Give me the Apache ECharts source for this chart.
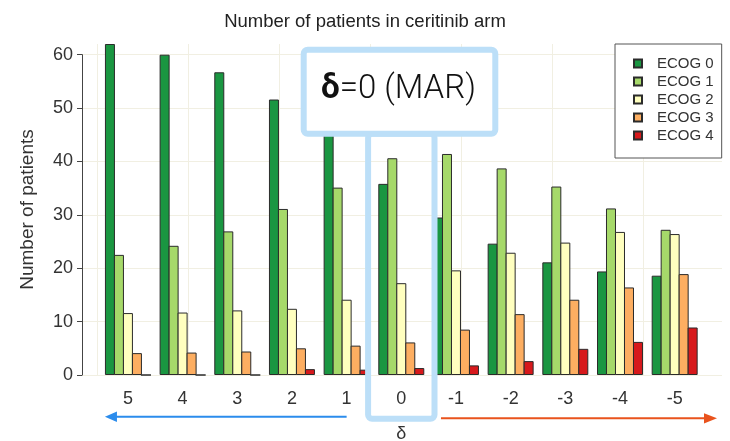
<!DOCTYPE html>
<html>
<head>
<meta charset="utf-8">
<script src="https://cdn.jsdelivr.net/npm/echarts/dist/echarts.min.js"></script>
<style>
  html, body { margin: 0; padding: 0; background: #ffffff; }
  #chart { width: 730px; height: 441px; }
</style>
</head>
<body>
<div id="chart"></div>
<script>
// ---- data ----
const categories = ['5', '4', '3', '2', '1', '0', '-1', '-2', '-3', '-4', '-5'];
const seriesNames = ['ECOG 0', 'ECOG 1', 'ECOG 2', 'ECOG 3', 'ECOG 4'];
const ecog0 = [62, 60, 56.7, 51.6, 45.5, 35.8, 29.5, 24.6, 21.1, 19.4, 18.6];
const ecog1 = [22.5, 24.2, 26.9, 31.1, 35.1, 40.6, 41.4, 38.7, 35.3, 31.2, 27.2];
const ecog2 = [11.6, 11.7, 12.1, 12.4, 14.1, 17.2, 19.6, 22.9, 24.8, 26.8, 26.4];
const ecog3 = [4.1, 4.2, 4.4, 5.0, 5.5, 6.1, 8.5, 11.4, 14.1, 16.4, 18.9];
const ecog4 = [0, 0, 0, 1.1, 1.0, 1.3, 1.8, 2.6, 4.9, 6.2, 8.9];
const yTickMin = 0, yTickMax = 60, yTickStep = 10;
const yRangeMax = 62;
const titleText = 'Number of patients in ceritinib arm';
const yName = 'Number of patients';
const xName = 'δ';

const colors = ['#1a9641', '#a6d96a', '#ffffbf', '#fdae61', '#d7191c'];
const allValues = [ecog0, ecog1, ecog2, ecog3, ecog4];

const chart = echarts.init(document.getElementById('chart'), null, { renderer: 'canvas' });

const FONT = '"Liberation Sans", Arial, sans-serif';
const plotTop = 44, plotBottom = 66; // y=0 at 375, y=62 at 44
const pxPerUnit = (441 - plotBottom - plotTop) / yRangeMax;
const axisTop = 441 - plotBottom - yTickMax * pxPerUnit;

const option = {
  animation: false,
  backgroundColor: '#ffffff',
  title: {
    text: titleText,
    left: 'center',
    top: 7,
    textStyle: { fontFamily: FONT, fontSize: 18.5, fontWeight: 'normal', color: '#222' }
  },
  legend: {
    data: seriesNames,
    orient: 'vertical',
    left: 615,
    top: 44,
    padding: [12, 8, 15, 18],
    itemWidth: 8,
    itemHeight: 8,
    itemGap: 3,
    icon: 'rect',
    borderColor: '#555',
    borderWidth: 1,
    backgroundColor: '#ffffff',
    textStyle: { fontFamily: FONT, fontSize: 15, color: '#333', padding: [0, 0, 0, 10], lineHeight: 15 },
    z: 20
  },
  grid: [
    { left: 100.6, right: 28, top: plotTop, bottom: plotBottom, outerBoundsMode: 'none', containLabel: false },
    { left: 82, right: 8, top: axisTop, bottom: plotBottom, outerBoundsMode: 'none', containLabel: false },
    { left: 97, width: 637, top: plotTop, bottom: plotBottom, outerBoundsMode: 'none', containLabel: false }
  ],
  xAxis: [
    {
      gridIndex: 0, type: 'category', data: categories,
      axisLine: { show: false }, axisTick: { show: false },
      axisLabel: { fontFamily: FONT, fontSize: 18, color: '#333', margin: 15 },
      name: xName, nameLocation: 'middle', nameGap: 50,
      nameTextStyle: { fontFamily: FONT, fontSize: 18, color: '#333' }
    },
    { gridIndex: 1, type: 'value', min: 0, max: 1, show: false },
    {
      gridIndex: 2, type: 'value', min: 0, max: 7, interval: 1,
      axisLine: { show: false }, axisTick: { show: false }, axisLabel: { show: false },
      splitLine: { show: true, lineStyle: { color: '#f1efe2', width: 1 } }
    }
  ],
  yAxis: [
    { gridIndex: 0, type: 'value', min: 0, max: yRangeMax, show: false },
    {
      gridIndex: 1, type: 'value', min: yTickMin, max: yTickMax, interval: yTickStep,
      axisLine: { show: true, lineStyle: { color: '#444', width: 1 } },
      axisTick: { show: true, length: 5, lineStyle: { color: '#444' } },
      axisLabel: { fontFamily: FONT, fontSize: 18, color: '#333', margin: 9 },
      splitLine: { show: true, lineStyle: { color: '#f1efe2', width: 1 } }
    },
    {
      gridIndex: 2, type: 'value', min: 0, max: yRangeMax,
      axisLine: { show: false }, axisTick: { show: false }, axisLabel: { show: false },
      splitLine: { show: false },
      name: yName, nameLocation: 'middle', nameGap: 60,
      nameTextStyle: { fontFamily: FONT, fontSize: 19, color: '#333' }
    }
  ],
  series: seriesNames.map((n, i) => ({
    name: n,
    type: 'bar',
    xAxisIndex: 0,
    yAxisIndex: 0,
    data: allValues[i],
    barGap: '-10%',
    barCategoryGap: '15.9%',
    itemStyle: { color: colors[i], borderColor: '#2b2b2b', borderWidth: 1 },
    z: 3
  }))
};

chart.setOption(option);

// ---- annotations (box around δ=0 and arrows) ----
const c0 = chart.convertToPixel({ xAxisIndex: 0 }, '0');
const c1 = chart.convertToPixel({ xAxisIndex: 0 }, '1');
const c5 = chart.convertToPixel({ xAxisIndex: 0 }, '5');
const cm1 = chart.convertToPixel({ xAxisIndex: 0 }, '-1');
const blue = '#bcdff8';
const narrowHalf = 33.2;

chart.setOption({
  graphic: [
    {
      type: 'rect', z: 50,
      shape: { x: 303.7, y: 49.7, width: 191.6, height: 84, r: 4 },
      style: { fill: '#ffffff', stroke: blue, lineWidth: 6 }
    },
    {
      type: 'rect', z: 49,
      shape: { x: c0 - narrowHalf, y: 133.7, width: narrowHalf * 2, height: 285, r: 4 },
      style: { fill: 'rgba(0,0,0,0)', stroke: blue, lineWidth: 6 }
    },
    {
      type: 'text', z: 51,
      x: 398.5, y: 90,
      style: {
        text: '{d|δ}{r|=0 (MAR)}',
        align: 'center', verticalAlign: 'middle',
        rich: {
          d: { fontFamily: 'Roboto, sans-serif', fontSize: 33, fontWeight: 'bold', fill: '#111' },
          r: { fontFamily: 'Roboto, sans-serif', fontSize: 33, fontWeight: 300, fill: '#111' }
        }
      }
    },
    // blue arrow to the left
    {
      type: 'line', z: 40,
      shape: { x1: c1, y1: 416.7, x2: c5 - 13, y2: 416.7 },
      style: { stroke: '#2b8cec', lineWidth: 2 }
    },
    {
      type: 'polygon', z: 40,
      shape: { points: [[c5 - 23, 416.7], [c5 - 11, 411.5], [c5 - 11, 421.9]] },
      style: { fill: '#2b8cec' }
    },
    // orange arrow to the right
    {
      type: 'line', z: 40,
      shape: { x1: cm1 - 15, y1: 418.3, x2: 706, y2: 418.3 },
      style: { stroke: '#e9531d', lineWidth: 2 }
    },
    {
      type: 'polygon', z: 40,
      shape: { points: [[717, 418.3], [704, 413.2], [704, 423.4]] },
      style: { fill: '#e9531d' }
    }
  ]
});
</script>
</body>
</html>
